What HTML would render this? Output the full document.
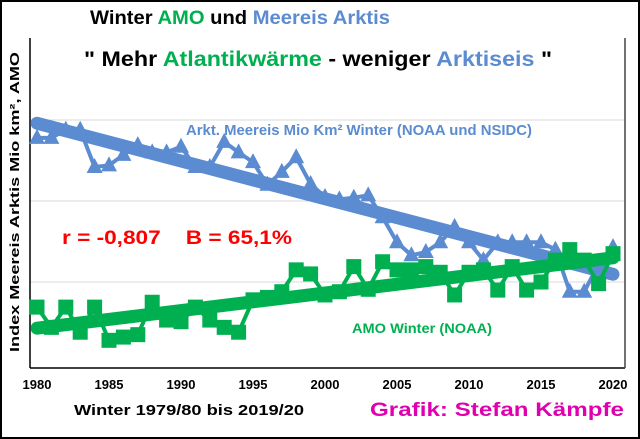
<!DOCTYPE html>
<html><head><meta charset="utf-8"><style>
body{margin:0;background:#fff}
#c{position:relative;width:640px;height:439px;box-sizing:border-box;border:2px solid #000;font-family:"Liberation Sans",sans-serif;overflow:hidden}
text{white-space:pre}
</style></head><body>
<div id="c">
<svg id="s" width="636" height="435" style="position:absolute;left:0;top:0">
<text x="238" y="22" text-anchor="middle" font-size="19" font-weight="bold" textLength="300" lengthAdjust="spacingAndGlyphs"><tspan fill="#000">Winter </tspan><tspan fill="#00b050">AMO</tspan><tspan fill="#000"> und </tspan><tspan fill="#5b8bd0">Meereis Arktis</tspan></text>
<text x="316" y="64" text-anchor="middle" font-size="21" font-weight="bold" textLength="468" lengthAdjust="spacingAndGlyphs"><tspan fill="#000">" Mehr </tspan><tspan fill="#00b050">Atlantikwärme</tspan><tspan fill="#000"> - weniger </tspan><tspan fill="#5b8bd0">Arktiseis</tspan><tspan fill="#000"> "</tspan></text>
<text transform="translate(17,200) rotate(-90)" text-anchor="middle" font-size="13" font-weight="bold" textLength="300" lengthAdjust="spacingAndGlyphs">Index Meereis Arktis Mio km², AMO</text>
<g id="grid"></g>
<line x1="28" y1="36" x2="28" y2="366" stroke="#000" stroke-width="1.5"/>
<line x1="28" y1="366" x2="623" y2="366" stroke="#000" stroke-width="1.5"/>
<line x1="623" y1="36" x2="623" y2="366" stroke="#444" stroke-width="1.5"/>
<g id="marks"></g>
<text x="184" y="133" font-size="15" font-weight="bold" fill="#5b8bd0" textLength="346" lengthAdjust="spacingAndGlyphs">Arkt. Meereis Mio Km² Winter (NOAA und NSIDC)</text>
<text x="60" y="242" font-size="19" font-weight="bold" fill="#ff0000" textLength="230" lengthAdjust="spacingAndGlyphs">r = -0,807    B = 65,1%</text>
<text x="350" y="331" font-size="14" font-weight="bold" fill="#00b050" textLength="140" lengthAdjust="spacingAndGlyphs">AMO Winter (NOAA)</text>
<g id="xt"></g>
<text x="72" y="413" font-size="15" font-weight="bold" textLength="230" lengthAdjust="spacingAndGlyphs">Winter 1979/80 bis 2019/20</text>
<text x="368" y="414" font-size="19" font-weight="bold" fill="#e000b0" textLength="254" lengthAdjust="spacingAndGlyphs">Grafik: Stefan Kämpfe</text>
</svg>
</div>
<script>
const years=[];for(let y=1980;y<=2020;y++)years.push(y);
const ice=[2.78,2.78,2.88,2.88,2.42,2.44,2.57,2.69,2.60,2.60,2.67,2.42,2.42,2.73,2.60,2.48,2.20,2.36,2.54,2.21,2.05,2.02,2.04,2.07,1.80,1.49,1.33,1.37,1.49,1.68,1.49,1.27,1.49,1.49,1.49,1.49,1.40,0.88,0.88,1.22,1.43];
const amo=[0.69,0.44,0.69,0.38,0.69,0.28,0.32,0.35,0.75,0.53,0.51,0.69,0.53,0.44,0.38,0.78,0.81,0.88,1.15,1.10,0.84,0.88,1.19,0.91,1.25,1.15,1.15,1.19,1.12,0.84,1.12,1.15,0.90,1.19,0.90,1.00,1.27,1.40,1.27,0.98,1.35];
const xTicks=[1980,1985,1990,1995,2000,2005,2010,2015,2020];
const gridVals=[1,2,3];
const X=y=>35+(y-1980)*14.4, Y=v=>361-v*81;
const NS='http://www.w3.org/2000/svg';
function mk(t,a,p){const e=document.createElementNS(NS,t);for(const k in a)e.setAttribute(k,a[k]);p.appendChild(e);return e;}
const grid=document.getElementById('grid'),marks=document.getElementById('marks'),xt=document.getElementById('xt');
gridVals.forEach(v=>{const l=mk('line',{x1:28,x2:623,y1:Y(v),y2:Y(v),stroke:'#d9d9d9','stroke-width':1},grid);

});
xTicks.forEach(y=>{const t=mk('text',{x:X(y),y:387,'text-anchor':'middle','font-size':13,'font-weight':'bold'},xt);t.textContent=y;

});
function trend(d){const n=d.length;let sx=0,sy=0,sxx=0,sxy=0;years.forEach((x,i)=>{sx+=x;sy+=d[i];sxx+=x*x;sxy+=x*d[i];});const b=(n*sxy-sx*sy)/(n*sxx-sx*sx),a=(sy-b*sx)/n;return x=>a+b*x;}
function series(d,col,name,marker){
 const f=trend(d);
 const pl=mk('polyline',{points:years.map((y,i)=>X(y)+','+Y(d[i])).join(' '),fill:'none',stroke:col,'stroke-width':4},marks);
 
 
 years.forEach((y,i)=>{const cx=X(y),cy=Y(d[i]);let m;
  if(marker==='tri')m=mk('polygon',{points:`${cx},${cy-9} ${cx-8},${cy+6} ${cx+8},${cy+6}`,fill:col},marks);
  else m=mk('rect',{x:cx-7.5,y:cy-7.5,width:15,height:15,fill:col},marks);
  
  });
 const t=mk('line',{x1:X(1980),y1:Y(f(1980)),x2:X(2020),y2:Y(f(2020)),stroke:col,'stroke-width':13,'stroke-linecap':'round'},marks);
 
 
}
series(ice,'#5b8bd0','ice','tri');
series(amo,'#00b050','amo','sq');
</script>
</body></html>
